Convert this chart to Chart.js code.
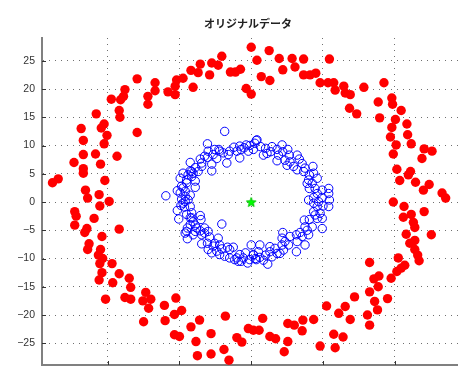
<!DOCTYPE html>
<html>
<head>
<meta charset="utf-8">
<script src="https://cdn.jsdelivr.net/npm/chart.js@4/dist/chart.umd.min.js"></script>
<style>
  html, body { margin: 0; padding: 0; background: #ffffff; overflow: hidden; }
  #wrap { width: 458px; height: 372px; }
  canvas { display: block; }
</style>
</head>
<body>
<div id="wrap"><canvas id="c" width="458" height="372"></canvas></div>
<script>
// Outer ring (red, filled)
const outerX = [
  -15.9,-13.4,-13.4,-14.4,-14.4,-11.6,-10.6,-10.4,-10.6,-17.6,-17.8,-18.2,-19.5,-18.4,-18.3,-21.6,-20.5,-20.9,-20.1,-23.7,
  -23.4,-20.5,-15.9,-21.7,-23.4,-18.7,-24.7,-21.0,-23.4,-23.4,-26.9,-27.7,-20.4,-23.1,-22.8,-21.2,-19.8,
  -9.5,-8.1,-8.4,-7.4,-7.1,-5.8,-5.5,-4.6,-4.1,-2.9,-2.2,-1.5,0.0,0.8,-0.7,0.0,1.4,2.5,2.6,3.9,4.4,5.7,6.1,7.3,7.3,8.2,9.0,9.6,
  10.9,10.7,11.5,11.7,12.9,13.1,13.8,15.7,18.5,13.7,14.7,17.7,19.6,19.7,20.9,17.9,20.1,19.6,21.7,19.4,21.8,20.2,22.3,19.8,
  24.1,25.2,23.8,20.3,22.2,21.9,20.7,22.9,24.8,24.0,26.6,27.1,19.8,
  -21.1,-24.6,-24.4,-21.9,-24.6,-22.9,-23.2,-18.4,-20.8,-22.6,-22.8,-21.0,-21.3,-20.7,-21.1,-19.4,-20.8,-18.4,-21.2,-19.3,
  -17.0,-16.8,-20.3,-17.6,-16.8,-14.7,-15.1,-14.0,-14.3,-12.1,-10.5,-10.7,-15.0,-12.0,-10.7,-10.0,-9.7,
  -8.4,-7.2,-7.7,-5.6,-3.6,-7.5,-5.6,-3.8,-3.1,-2.0,-1.3,-0.4,0.3,1.1,1.6,2.6,3.4,4.6,5.1,5.1,6.0,7.1,7.2,8.7,9.6,
  21.3,21.2,22.3,24.1,22.6,22.8,21.6,25.1,22.1,22.8,22.8,23.2,23.4,20.5,21.4,20.9,20.3,16.5,17.8,17.1,19.5,17.7,16.5,14.4,
  19.0,17.2,10.5,13.1,17.6,12.2,16.2,13.8,16.5,11.5,12.8,11.7
];
const outerY = [
  21.8,21.1,19.7,18.7,17.3,19.5,20.5,21.6,19.0,19.9,18.7,18.1,18.2,16.2,15.0,15.6,13.8,13.1,11.8,13.0,
  10.9,10.3,12.3,8.5,8.4,8.1,7.0,6.7,5.9,5.1,4.1,3.4,3.8,2.1,0.7,1.3,0.1,
  21.9,20.3,23.3,22.9,24.4,22.5,24.6,24.2,25.8,23.0,23.0,23.5,27.4,25.1,20.1,19.1,22.2,26.8,21.5,25.4,23.4,25.4,23.9,25.3,22.5,22.5,22.8,21.1,
  25.3,21.1,21.1,19.8,20.5,19.3,19.0,20.3,21.1,16.6,15.6,17.7,18.4,17.3,16.2,14.9,14.6,13.2,13.8,11.5,11.9,10.1,10.3,8.5,
  9.4,9.0,7.7,5.8,5.4,4.8,3.8,3.5,3.1,2.1,1.6,0.7,0.0,
  -0.7,-1.7,-2.5,-2.9,-4.1,-4.7,-5.4,-4.8,-6.1,-7.4,-8.4,-8.4,-9.4,-10.0,-10.9,-10.9,-12.5,-12.7,-13.8,-14.3,
  -13.5,-15.1,-17.2,-16.9,-17.2,-16.0,-17.5,-17.2,-18.8,-18.3,-17.0,-19.9,-21.2,-21.0,-23.5,-23.8,-19.2,
  -22.1,-20.9,-24.7,-23.3,-20.2,-27.2,-26.9,-26.1,-28.0,-24.0,-24.8,-22.4,-22.7,-22.7,-20.6,-23.8,-24.2,-26.5,-24.7,-21.5,-21.8,-22.8,-20.9,-20.8,-25.5,
  -0.8,-2.7,-2.2,-1.7,-3.6,-4.5,-5.7,-5.8,-7.3,-6.8,-8.4,-9.4,-10.4,-9.9,-11.2,-11.7,-12.3,-10.7,-13.1,-13.6,-13.5,-15.0,-15.9,-16.8,
  -17.1,-17.6,-18.4,-18.5,-19.1,-19.7,-20.0,-20.8,-21.8,-23.4,-23.9,-25.8
];

// Inner ring (blue, open)
const innerX = [
  -3.7,-6.1,-6.0,-4.5,-3.2,-3.0,-2.4,-1.6,-1.0,-0.2,0.5,-0.4,-1.6,-3.4,-4.8,-5.3,-6.1,-7.1,-8.5,-7.8,
  -6.9,-5.5,-5.5,-8.5,-9.5,-8.3,-9.9,-9.0,-7.8,-9.7,-10.3,-11.9,-9.2,-8.5,-9.7,-9.2,-9.8,-9.3,-10.3,-8.5,
  -10.1,-8.3,-7.1,-7.0,-8.5,-8.1,-8.9,-9.2,-7.8,-7.1,-6.9,-6.0,-5.8,-8.9,-4.1,-4.6,-6.9,-6.1,-5.3,-6.0,
  -5.5,-4.8,-4.1,-3.3,-2.5,-4.4,-3.7,-3.0,-2.3,-1.6,-1.4,-0.5,-0.8,0.0,0.3,0.7,0.7,
  -8.3,-8.1,-8.8,-9.0,-9.5,-9.9,-9.2,-9.5,-8.8,-8.3,-9.0,-8.5,-7.8,-9.0,-7.6,-6.5,-6.5,-8.1,-5.1,-4.4,
  -3.0,-2.0,-1.1,-0.2,-1.8,-6.9,-6.5,-4.4,-3.9,-2.0,-1.4,-0.7,0.3,-5.1,-7.4,-7.8,
  0.8,1.3,2.2,2.0,2.7,3.6,4.3,4.4,3.6,4.7,5.0,5.3,5.1,6.4,6.7,7.1,6.4,7.5,8.6,8.1,
  8.7,9.2,7.8,8.1,8.9,9.9,10.8,10.8,8.7,9.9,10.9,8.7,9.2,10.0,10.8,8.7,9.6,9.2,8.1,7.4,
  9.9,8.5,7.8,6.8,6.3,8.0,6.4,7.5,6.3,4.4,4.3,4.7,4.3,4.5,4.0,3.3,2.6,2.9,2.0,1.2,1.2,2.3,0.6,
  1.7,2.9,3.8,5.4,5.9,7.3,8.0,8.5,9.2,8.0,9.4,8.9,9.9,7.5,7.1,5.4,5.2,3.6,1.7,1.0,0.3,2.6
];
const innerY = [
  12.5,10.3,9.0,9.3,8.4,9.0,9.7,9.9,9.6,10.0,10.4,9.0,7.8,6.9,7.7,8.4,7.9,7.6,7.0,6.1,
  6.3,6.7,5.5,5.5,5.1,4.5,4.2,3.9,2.6,2.8,2.0,1.1,1.9,1.2,0.5,0.1,-0.6,-0.9,-1.5,-0.8,
  -3.0,-2.8,-2.4,-3.1,-4.0,-3.5,-4.6,-5.5,-5.2,-5.1,-5.8,-5.2,-6.2,-6.5,-3.9,-6.4,-7.4,-7.3,-7.8,-8.4,
  -9.0,-8.7,-8.3,-8.0,-8.0,-9.3,-9.6,-9.9,-10.2,-9.3,-10.5,-10.8,-9.0,-7.6,-9.3,-10.2,10.9,
  5.4,5.1,4.8,3.4,2.5,1.6,1.0,-0.2,0.4,-1.9,-2.2,-2.8,-4.1,-5.2,-4.6,-4.6,-5.5,-5.8,-7.3,-7.6,
  -8.4,-9.9,-9.9,-10.2,-10.5,6.9,8.1,9.0,8.7,9.0,9.3,10.1,9.3,9.3,5.4,3.7,
  11.0,9.8,8.6,9.5,8.9,9.3,10.1,8.9,7.3,7.4,6.5,8.3,9.3,8.3,7.6,6.8,5.7,6.0,6.3,4.8,
  5.1,4.2,3.3,2.4,2.4,2.1,2.4,1.5,0.8,0.8,0.35,-0.2,-0.8,-0.7,-0.8,-1.7,-2.0,-2.9,-3.1,-3.2,
  -4.7,-4.4,-5.0,-5.4,-5.8,-5.8,-7.0,-7.6,-8.8,-5.4,-6.4,-7.0,-7.6,-8.5,-9.1,-8.2,-8.8,-9.7,-9.4,-9.8,-7.6,-11.0,-10.0,
  8.3,9.8,8.3,7.1,6.3,5.4,3.9,3.3,1.5,0.35,0.05,-2.3,-2.9,-4.4,-6.1,-6.1,-7.6,-9.1,-10.3,-8.8,-9.4,-7.9
];

// Centre marker (green star)
const centerX = [0];
const centerY = [0];

// Axis ticks
const xTickValues = [-20, -10, 0, 10, 20];
const yTickValues = [-25, -20, -15, -10, -5, 0, 5, 10, 15, 20, 25];
const titleText = 'オリジナルデータ';

const toPoints = (xs, ys) => xs.map((x, i) => ({ x: x, y: ys[i] }));

// Five-pointed star sprite for the centre point
function makeStar(size) {
  const cv = document.createElement('canvas');
  cv.width = size; cv.height = size;
  const g = cv.getContext('2d');
  const cx = size / 2, cy = size / 2 + 0.5;
  const R = size / 2 - 1, r = R * 0.42;
  g.beginPath();
  for (let k = 0; k < 10; k++) {
    const rad = (k % 2 === 0) ? R : r;
    const a = -Math.PI / 2 + k * Math.PI / 5;
    const px = cx + rad * Math.cos(a), py = cy + rad * Math.sin(a);
    if (k === 0) g.moveTo(px, py); else g.lineTo(px, py);
  }
  g.closePath();
  g.fillStyle = '#00ff00';
  g.fill();
  g.lineWidth = 1;
  g.strokeStyle = '#00c800';
  g.stroke();
  return cv;
}

// Short tick marks pointing into the plot, plus the title
const decorPlugin = {
  id: 'decor',
  afterDraw(chart) {
    const ctx = chart.ctx;
    const area = chart.chartArea;
    const xs = chart.scales.x, ys = chart.scales.y;
    ctx.save();
    ctx.strokeStyle = '#333333';
    ctx.lineWidth = 1;
    ctx.beginPath();
    xTickValues.forEach(v => {
      const p = Math.round(xs.getPixelForValue(v)) + 0.5;
      ctx.moveTo(p, area.bottom);
      ctx.lineTo(p, area.bottom - 4);
    });
    yTickValues.forEach(v => {
      const p = Math.round(ys.getPixelForValue(v)) + 0.5;
      ctx.moveTo(area.left, p);
      ctx.lineTo(area.left + 4, p);
    });
    ctx.stroke();
    ctx.font = 'bold 11px "Noto Sans CJK JP", sans-serif';
    ctx.fillStyle = '#222222';
    ctx.textAlign = 'center';
    ctx.textBaseline = 'middle';
    ctx.fillText(titleText, (area.left + area.right) / 2 - 2, 23.5);
    ctx.restore();
  }
};

// Fixed axis boxes: no automatic edge padding for tick labels
function fixBox(w, h) {
  return s => {
    if (w !== null) s.width = w;
    if (h !== null) s.height = h;
    s.paddingTop = 0; s.paddingBottom = 0;
    s.paddingLeft = 0; s.paddingRight = 0;
  };
}

new Chart(document.getElementById('c'), {
  type: 'scatter',
  data: {
    datasets: [
      {
        label: 'center',
        data: toPoints(centerX, centerY),
        pointStyle: makeStar(12),
        pointRadius: 6
      },
      {
        label: 'inner',
        data: toPoints(innerX, innerY),
        pointStyle: 'circle',
        pointRadius: 4.2,
        pointBorderWidth: 1,
        pointBorderColor: '#0000ff',
        pointBackgroundColor: 'rgba(0,0,0,0)'
      },
      {
        label: 'outer',
        data: toPoints(outerX, outerY),
        pointStyle: 'circle',
        pointRadius: 4.7,
        pointBorderWidth: 0,
        pointBorderColor: '#ff0000',
        pointBackgroundColor: '#ff0000'
      }
    ]
  },
  options: {
    responsive: false,
    animation: false,
    events: [],
    layout: { autoPadding: false, padding: { top: 38, left: 0, right: 0, bottom: 0 } },
    plugins: {
      legend: { display: false },
      tooltip: { enabled: false },
      title: { display: false }
    },
    scales: {
      x: {
        type: 'linear',
        min: -29.16,
        max: 28.82,
        afterBuildTicks: s => { s.ticks = xTickValues.map(v => ({ value: v })); },
        afterFit: fixBox(null, 7),
        ticks: { display: false },
        grid: { color: '#707070', lineWidth: 1, drawTicks: false },
        border: { display: true, color: '#808080', width: 2, dash: [1, 5] }
      },
      y: {
        type: 'linear',
        min: -28.85,
        max: 29.03,
        afterBuildTicks: s => { s.ticks = yTickValues.map(v => ({ value: v })); },
        afterFit: fixBox(42, null),
        ticks: {
          padding: 7,
          color: '#333333',
          font: { family: '"Liberation Sans", sans-serif', size: 10.5 },
          callback: v => String(v).replace('-', '\u2212')
        },
        grid: { color: '#707070', lineWidth: 1, drawTicks: false },
        border: { display: true, color: '#808080', width: 2, dash: [1, 5] }
      }
    }
  },
  plugins: [decorPlugin]
});
</script>
</body>
</html>
